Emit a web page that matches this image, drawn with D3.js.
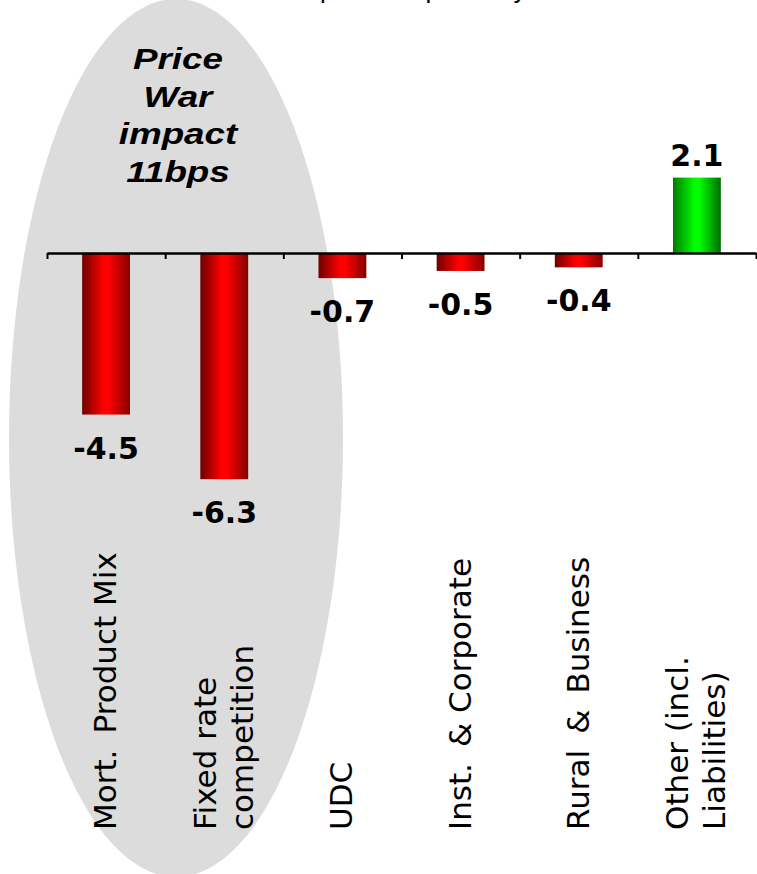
<!DOCTYPE html>
<html>
<head>
<meta charset="utf-8">
<script src="https://cdn.jsdelivr.net/npm/d3@7"></script>
<style>
  html, body { margin: 0; padding: 0; background: #fff; }
  svg { display: block; }
  text { white-space: pre; }
</style>
</head>
<body>
<svg id="chart" width="757" height="874"></svg>
<script>
// Margin drivers, basis points
const categoryLines = [
  ["Mort. \u2009Product Mix"],
  ["Fixed rate", "competition"],
  ["UDC"],
  ["Inst. \u2009& Corporate"],
  ["Rural \u2009& \u2009Business"],
  ["Other (incl.", "Liabilities)"]
];
const categoryKeys = ["mort", "fixed", "udc", "inst", "rural", "other"];
const values = [-4.5, -6.3, -0.7, -0.5, -0.4, 2.1];
const valueLabels = ["-4.5", "-6.3", "-0.7", "-0.5", "-0.4", "2.1"];
const calloutLines = ["Price", "War", "impact", "11bps"];
const titleText = "Impact on spread by driver";

const svg = d3.select("#chart");

const x = d3.scaleBand()
  .domain(categoryKeys)
  .range([47, 756])
  .paddingInner(0.595)
  .paddingOuter(0.2975);

const y = d3.scaleLinear().domain([-7, 3]).range([253 + 7 * 35.9, 253 - 3 * 35.9]);

// gradients for cylindrical-looking bars
const defs = svg.append("defs");
function grad(id, edgeL, mid, edgeR) {
  const g = defs.append("linearGradient").attr("id", id)
    .attr("x1", "0%").attr("x2", "100%").attr("y1", "0%").attr("y2", "0%");
  g.append("stop").attr("offset", "0%").attr("stop-color", edgeL);
  g.append("stop").attr("offset", "45%").attr("stop-color", mid);
  g.append("stop").attr("offset", "55%").attr("stop-color", mid);
  g.append("stop").attr("offset", "100%").attr("stop-color", edgeR);
}
grad("gNeg", "#6e0000", "#ff0000", "#850000");
grad("gPos", "#007a00", "#00ff00", "#006e00");

// title (sits above the visible area)
svg.append("text")
  .attr("x", 291).attr("y", -2)
  .attr("font-family", "Liberation Sans, Arial, sans-serif")
  .attr("font-size", 26)
  .attr("fill", "#000")
  .text(titleText);

// shaded callout grouping the price-war drivers
svg.append("ellipse")
  .attr("cx", 176).attr("cy", 438)
  .attr("rx", 167).attr("ry", 439)
  .attr("fill", "#dcdcdc");

// callout text
const callout = svg.append("g")
  .attr("transform", "translate(178,0) scale(1.27,1)");
callout.selectAll("text").data(calloutLines).join("text")
  .attr("x", 0)
  .attr("y", (d, i) => 69 + i * 37.6)
  .attr("text-anchor", "middle")
  .attr("font-family", "Liberation Sans, Arial, sans-serif")
  .attr("font-weight", "bold")
  .attr("font-style", "italic")
  .attr("font-size", 29)
  .attr("fill", "#000")
  .text(d => d);

// bars
svg.selectAll("rect.bar").data(values).join("rect")
  .attr("class", "bar")
  .attr("x", (d, i) => x(categoryKeys[i]))
  .attr("width", x.bandwidth())
  .attr("y", d => y(Math.max(0, d)))
  .attr("height", d => Math.abs(y(d) - y(0)))
  .attr("fill", d => d < 0 ? "url(#gNeg)" : "url(#gPos)");

// axis with ticks at category boundaries
const boundary = d3.scaleLinear().domain([0, categoryKeys.length]).range([47, 756]);
const axisG = svg.append("g")
  .attr("transform", `translate(0,${y(0)})`)
  .call(d3.axisBottom(boundary).ticks(categoryKeys.length).tickSize(6).tickSizeOuter(0).tickFormat(""));
axisG.select(".domain").attr("stroke", "#000").attr("stroke-width", 2.5);
axisG.selectAll(".tick line").attr("stroke", "#000").attr("stroke-width", 2);

// value labels
svg.selectAll("text.val").data(values).join("text")
  .attr("class", "val")
  .attr("x", (d, i) => x(categoryKeys[i]) + x.bandwidth() / 2)
  .attr("y", d => d < 0 ? y(d) + 44 : y(d) - 12)
  .attr("text-anchor", "middle")
  .attr("font-family", "DejaVu Sans, Verdana, sans-serif")
  .attr("font-weight", "bold")
  .attr("font-size", 30)
  .attr("fill", "#000")
  .text((d, i) => valueLabels[i]);

// rotated category labels
const catG = svg.selectAll("g.cat").data(categoryLines).join("g")
  .attr("class", "cat")
  .attr("transform", (d, i) => `translate(${x(categoryKeys[i]) + x.bandwidth() / 2},830) rotate(-90)`);
catG.selectAll("text").data(d => d.map((t, j) => ({ t, j, n: d.length }))).join("text")
  .attr("x", 0)
  .attr("y", d => 10 + (d.j - (d.n - 1) / 2) * 37)
  .attr("text-anchor", "start")
  .attr("font-family", "DejaVu Sans, Verdana, sans-serif")
  .attr("font-size", 31)
  .attr("fill", "#000")
  .text(d => d.t);
</script>
</body>
</html>
